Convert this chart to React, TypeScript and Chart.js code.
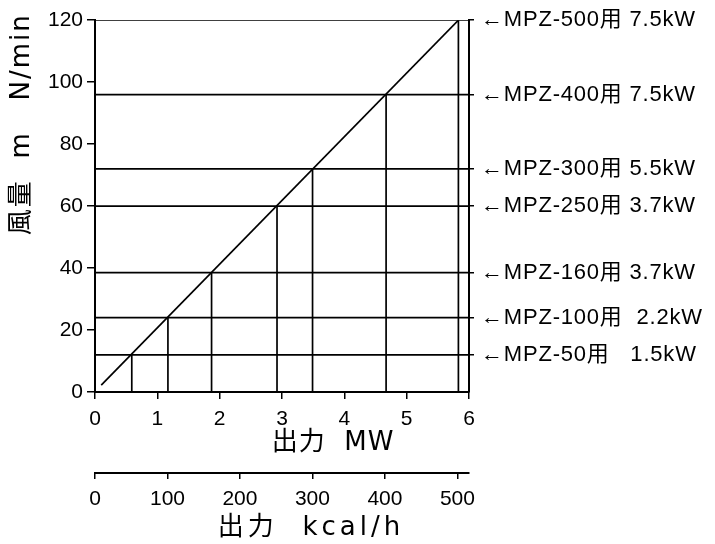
import React, { useEffect, useRef } from 'react';
import { Chart, registerables } from 'chart.js';

Chart.register(...registerables);

// ---- data ----
const modelLabels = [
  '←MPZ-500用 7.5kW',
  '←MPZ-400用 7.5kW',
  '←MPZ-300用 5.5kW',
  '←MPZ-250用 3.7kW',
  '←MPZ-160用 3.7kW',
  '←MPZ-100用  2.2kW',
  '←MPZ-50用   1.5kW',
];
const airFlow = [120, 96, 72, 60, 38.5, 24, 12]; // 風量 m³N/min
const outputMW = [5.83, 4.67, 3.49, 2.92, 1.87, 1.17, 0.59]; // 出力 MW
const diagonalX = [0.1, 5.83];
const diagonalY = [2.2, 120];
const xTicksMW = [0, 1, 2, 3, 4, 5, 6];
const yTicks = [0, 20, 40, 60, 80, 100, 120];
const kcalTicks = [0, 100, 200, 300, 400, 500];
const kcalPerMW = 86; // axis unit conversion (×10⁴ kcal/h per MW)
const xMax = 6;
const yMax = 120;

const xTitle = '出力  MW';
const x2Title = '出力  kcal/h';
const yTitle = '風量  m   N/min';

const tickFont = { family: '"Liberation Sans", Arial, sans-serif', size: 21 };
const labelFont = { family: '"Liberation Sans", "Noto Sans CJK JP", sans-serif', size: 22 };
const titleFamily = '"DejaVu Sans", "Noto Sans CJK JP", sans-serif';

const spacingPlugin = {
  id: 'labelSpacing',
  afterDatasetsDraw(chart: any) {
    (chart.ctx as any).letterSpacing = '0.8px';
  },
};

const titlePlugin = {
  id: 'plotterTitles',
  afterDraw(chart: any) {
    const ctx = chart.ctx as CanvasRenderingContext2D;
    (ctx as any).letterSpacing = '0px';
    const area = chart.chartArea;
    ctx.save();
    ctx.fillStyle = '#000';
    ctx.textAlign = 'center';
    ctx.textBaseline = 'middle';
    ctx.font = `26px ${titleFamily}`;
    (ctx as any).letterSpacing = '1px';
    ctx.fillText(xTitle, area.left + 238, area.bottom + 51);
    (ctx as any).letterSpacing = '4px';
    ctx.fillText(x2Title, area.left + 216, area.bottom + 136);
    (ctx as any).letterSpacing = '2px';
    ctx.translate(22, area.top + 104);
    ctx.rotate(-Math.PI / 2);
    ctx.fillText(yTitle, 0, 0);
    ctx.restore();
    (ctx as any).letterSpacing = '0px';
  },
};

export default function App() {
  const canvasRef = useRef<HTMLCanvasElement | null>(null);

  useEffect(() => {
    const canvas = canvasRef.current;
    if (!canvas) return;

    const lineStyle = {
      borderColor: '#000',
      borderWidth: 1.7,
      pointRadius: 0,
      showLine: true,
      fill: false,
      tension: 0,
    };

    const datasets: any[] = [];
    datasets.push({
      ...lineStyle,
      label: 'diagonal',
      data: diagonalX.map((x, i) => ({ x, y: diagonalY[i] })),
    });
    airFlow.forEach((q, i) => {
      datasets.push({
        ...lineStyle,
        label: 'h' + i,
        data: [
          { x: 0, y: q },
          { x: xMax, y: q },
        ],
      });
      datasets.push({
        ...lineStyle,
        label: 'v' + i,
        data: [
          { x: outputMW[i], y: 0 },
          { x: outputMW[i], y: q },
        ],
      });
    });

    const sortedFlow = [...airFlow].sort((a, b) => a - b);

    const chart = new Chart(canvas, {
      type: 'line',
      data: { datasets },
      plugins: [spacingPlugin, titlePlugin],
      options: {
        animation: false,
        responsive: true,
        maintainAspectRatio: false,
        layout: { padding: { top: 17, left: 0, right: 0, bottom: 0 } },
        plugins: { legend: { display: false }, tooltip: { enabled: false } },
        scales: {
          x: {
            type: 'linear',
            position: 'bottom',
            min: 0,
            max: xMax,
            afterBuildTicks: (s: any) => {
              s.ticks = xTicksMW.map((v) => ({ value: v }));
            },
            afterFit: (s: any) => {
              s.height = 81;
            },
            ticks: { color: '#000', font: tickFont, padding: 8, maxRotation: 0 },
            grid: { drawOnChartArea: false, color: '#000', lineWidth: 1.5, tickLength: 7 },
            border: { color: '#000', width: 2 },
          },
          x2: {
            type: 'linear',
            position: 'bottom',
            min: 0,
            max: xMax * kcalPerMW,
            afterBuildTicks: (s: any) => {
              s.ticks = kcalTicks.map((v) => ({ value: v }));
            },
            afterFit: (s: any) => {
              s.height = 71;
            },
            ticks: { color: '#000', font: tickFont, padding: 8, maxRotation: 0 },
            grid: { drawOnChartArea: false, color: '#000', lineWidth: 1.5, tickLength: 6 },
            border: { color: '#000', width: 2 },
          },
          y: {
            type: 'linear',
            position: 'left',
            min: 0,
            max: yMax,
            afterBuildTicks: (s: any) => {
              s.ticks = yTicks.map((v) => ({ value: v }));
            },
            afterFit: (s: any) => {
              s.width = 95;
            },
            ticks: { color: '#000', font: tickFont, padding: 4 },
            grid: { drawOnChartArea: false, color: '#000', lineWidth: 1.5, tickLength: 8 },
            border: { color: '#000', width: 2 },
          },
          yRight: {
            type: 'linear',
            position: 'right',
            min: 0,
            max: yMax,
            afterBuildTicks: (s: any) => {
              s.ticks = sortedFlow.map((v) => ({ value: v }));
            },
            afterFit: (s: any) => {
              s.width = 246;
            },
            ticks: {
              z: 1,
              color: '#000',
              font: labelFont,
              padding: 7,
              autoSkip: false,
              callback: (value: any) => modelLabels[airFlow.indexOf(Number(value))],
            },
            grid: { drawOnChartArea: false, color: '#000', lineWidth: 1.5, tickLength: 5 },
            border: { color: '#000', width: 2 },
          },
        },
      },
    });

    return () => chart.destroy();
  }, []);

  return (
    <div style={{ position: 'fixed', left: 0, top: 0, width: 715, height: 544, background: '#fff' }}>
      <canvas ref={canvasRef} />
    </div>
  );
}
